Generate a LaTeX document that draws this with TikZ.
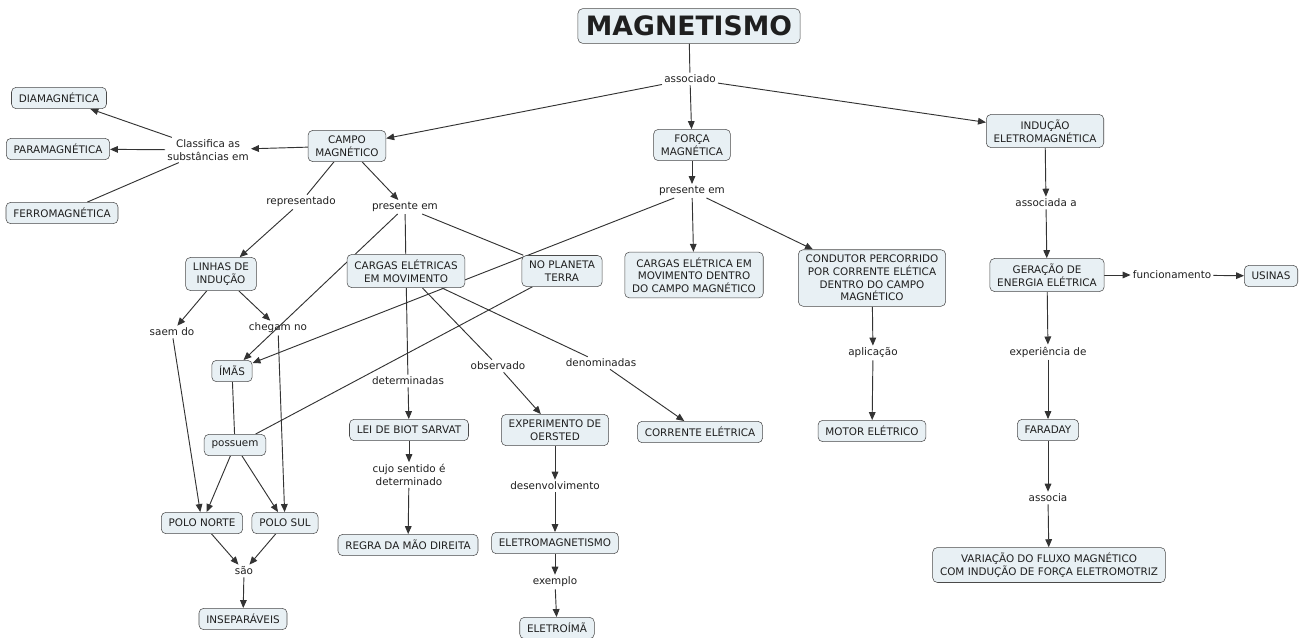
\documentclass[tikz,border=0pt]{standalone}
\usepackage{fontspec}
\setmainfont{DejaVu Sans}
\usetikzlibrary{arrows.meta}
\usepackage{xcolor}

\pgfdeclarelayer{fundo}
\pgfsetlayers{fundo,main}

\definecolor{caixa}{HTML}{E8F0F4}
\definecolor{borda}{HTML}{4A4A4A}
\definecolor{linha}{HTML}{333333}

\begin{document}
\begin{tikzpicture}[x=0.75pt,y=-0.75pt,
	conceito/.style={draw=borda,fill=caixa,rounded corners=3.5pt,align=center,font=\fontsize{7.8}{9.5}\selectfont,inner xsep=5.5pt,inner ysep=4pt,minimum height=16pt,text=black!88},
	frase/.style={align=center,font=\fontsize{7.8}{9.5}\selectfont,inner sep=1.5pt,text=black!88},
	seta/.style={draw=linha,line width=0.7pt,-{Triangle[length=6pt,width=5pt]}},
	traco/.style={draw=linha,line width=0.7pt}]
				
				\useasboundingbox (0,0) rectangle (1305,637);
				
				% Conceito central
				\node[conceito,font=\fontsize{20}{24}\selectfont\bfseries,minimum height=26pt,inner xsep=6pt] (mag) at (689,26) {MAGNETISMO};
				\node[frase] (assoc) at (690,79) {associado};
				
				% Primeiro nivel
				\node[conceito] (campo) at (347,146) {CAMPO\\MAGNÉTICO};
				\node[conceito] (forca) at (692,145) {FORÇA\\MAGNÉTICA};
				\node[conceito] (inducao) at (1045,131) {INDUÇÃO\\ELETROMAGNÉTICA};
				
				% Campo magnetico
				\node[frase] (classif) at (208,150) {Classifica as\\substâncias em};
				\node[conceito] (dia) at (59,98) {DIAMAGNÉTICA};
				\node[conceito] (para) at (58,149) {PARAMAGNÉTICA};
				\node[conceito] (ferro) at (62,213) {FERROMAGNÉTICA};
				\node[frase] (repres) at (301,202) {representado};
				\node[frase] (presA) at (405,207) {presente em};
				\node[conceito] (linhas) at (221,274) {LINHAS DE\\INDUÇÃO};
				\node[conceito] (cargas) at (406,271) {CARGAS ELÉTRICAS\\EM MOVIMENTO};
				\node[conceito] (terra) at (562,271) {NO PLANETA\\TERRA};
				\node[frase] (saem) at (172,332) {saem do};
				\node[frase] (chegam) at (278,328) {chegam no};
				\node[conceito] (imas) at (232,371) {ÍMÃS};
				\node[conceito] (possuem) at (235,445) {possuem};
				\node[conceito] (norte) at (202,523) {POLO NORTE};
				\node[conceito] (sul) at (285,523) {POLO SUL};
				\node[frase] (sao) at (244,571) {são};
				\node[conceito] (insep) at (243,619) {INSEPARÁVEIS};
				\node[frase] (determ) at (408,381) {determinadas};
				\node[frase] (observ) at (498,366) {observado};
				\node[frase] (denom) at (601,363) {denominadas};
				\node[conceito] (lei) at (409,430) {LEI DE BIOT SARVAT};
				\node[frase] (cujo) at (409,475) {cujo sentido é\\determinado};
				\node[conceito] (regra) at (408,545) {REGRA DA MÃO DIREITA};
				\node[conceito] (oersted) at (555,430) {EXPERIMENTO DE\\OERSTED};
				\node[frase] (desenv) at (555,486) {desenvolvimento};
				\node[conceito] (eletromag) at (555,543) {ELETROMAGNETISMO};
				\node[frase] (exemplo) at (555,582) {exemplo};
				\node[conceito] (eletroima) at (557,628) {ELETROÍMÃ};
				\node[conceito] (corrente) at (700,432) {CORRENTE ELÉTRICA};
				
				% Forca magnetica
				\node[frase] (presB) at (692,191) {presente em};
				\node[conceito] (dentro) at (694,275) {CARGAS ELÉTRICA EM\\MOVIMENTO DENTRO\\DO CAMPO MAGNÉTICO};
				\node[conceito] (condutor) at (872,278) {CONDUTOR PERCORRIDO\\POR CORRENTE ELÉTICA\\DENTRO DO CAMPO\\MAGNÉTICO};
				\node[frase] (aplic) at (873,353) {aplicação};
				\node[conceito] (motor) at (872,431) {MOTOR ELÉTRICO};
				
				% Inducao
				\node[frase] (assocA) at (1046,203) {associada a};
				\node[conceito] (geracao) at (1047,275) {GERAÇÃO DE\\ENERGIA ELÉTRICA};
				\node[frase] (func) at (1172,275) {funcionamento};
				\node[conceito] (usinas) at (1271,276) {USINAS};
				\node[frase] (exper) at (1048,352) {experiência de};
				\node[conceito] (faraday) at (1048,430) {FARADAY};
				\node[frase] (associa) at (1048,498) {associa};
				\node[conceito] (variacao) at (1049,565) {VARIAÇÃO DO FLUXO MAGNÉTICO\\COM INDUÇÃO DE FORÇA ELETROMOTRIZ};
				
				% Ligacoes
				\begin{pgfonlayer}{fundo}
				\foreach \a/\b in {mag/assoc,classif/ferro,campo/repres,presA/cargas,presA/terra,terra/possuem,imas/possuem,cargas/determ,cargas/observ,cargas/denom} {
					\draw[traco] (\a) -- (\b);
				}
				\foreach \a/\b in {assoc/campo,assoc/forca,assoc/inducao,campo/classif,classif/dia,classif/para,repres/linhas,campo/presA,presA/imas,presB/imas,
					linhas/saem,linhas/chegam,saem/norte,chegam/sul,possuem/norte,possuem/sul,norte/sao,sul/sao,sao/insep,
					determ/lei,lei/cujo,cujo/regra,observ/oersted,oersted/desenv,desenv/eletromag,eletromag/exemplo,exemplo/eletroima,denom/corrente,
					forca/presB,presB/dentro,presB/condutor,condutor/aplic,aplic/motor,
					inducao/assocA,assocA/geracao,geracao/func,func/usinas,geracao/exper,exper/faraday,faraday/associa,associa/variacao} {
					\draw[seta] (\a) -- (\b);
				}
				\end{pgfonlayer}
				
			\end{tikzpicture}
\end{document}
